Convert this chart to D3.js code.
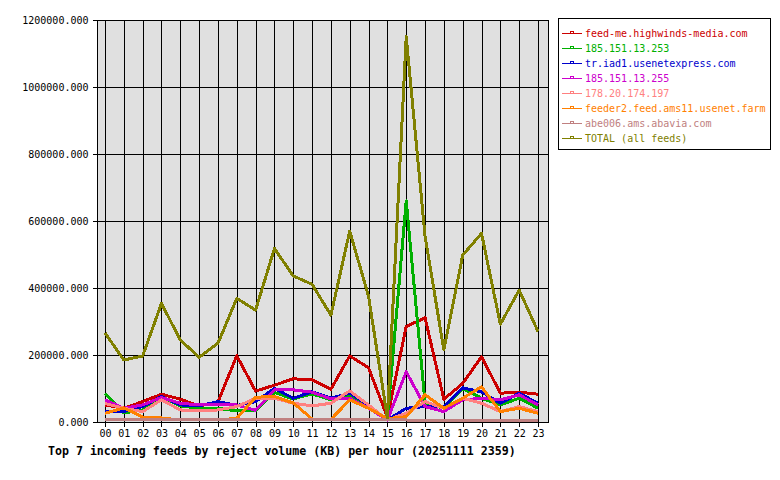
<!DOCTYPE html>
<html>
<head>
<meta charset="utf-8">
<script src="https://cdn.jsdelivr.net/npm/d3@7"></script>
<style>
  body { margin: 0; background: #fff; }
  svg { display: block; font-family: "DejaVu Sans Mono", "Liberation Mono", monospace; }
</style>
</head>
<body>
<svg id="chart" width="780" height="480"></svg>
<script>
const hours = ["00","01","02","03","04","05","06","07","08","09","10","11","12","13","14","15","16","17","18","19","20","21","22","23"];
const yTicks = [0, 200000, 400000, 600000, 800000, 1000000, 1200000];

const feedMe   = [51000, 41000, 61000, 83000, 68000, 48000, 60000, 198000, 92000, 110000, 129000, 126000, 98000, 197000, 162000, 14000, 285000, 311000, 68000, 115000, 195000, 86000, 89000, 83000];
const f185_253 = [86000, 27000, 36000, 76000, 48000, 41000, 41000, 33000, 34000, 88000, 69000, 84000, 66000, 76000, 46000, 8000, 660000, 58000, 41000, 100000, 71000, 51000, 71000, 41000];
const trIad1   = [31000, 31000, 46000, 76000, 51000, 48000, 61000, 49000, 61000, 100000, 71000, 90000, 71000, 86000, 51000, 6000, 41000, 46000, 46000, 102000, 90000, 56000, 86000, 56000];
const f185_255 = [66000, 41000, 51000, 73000, 56000, 51000, 51000, 51000, 35000, 96000, 96000, 89000, 69000, 71000, 41000, 6000, 150000, 46000, 31000, 66000, 71000, 66000, 81000, 51000];
const f178     = [55000, 41000, 31000, 66000, 36000, 33000, 36000, 46000, 71000, 71000, 56000, 48000, 56000, 93000, 51000, 6000, 26000, 61000, 41000, 71000, 56000, 31000, 46000, 31000];
const feeder2  = [26000, 42000, 15000, 12000, 6000, 6000, 6000, 11000, 74000, 76000, 57000, 9000, 8000, 66000, 41000, 10000, 16000, 81000, 41000, 71000, 105000, 31000, 41000, 26000];
const abe006   = [6000, 6000, 6000, 6000, 6000, 6000, 6000, 6000, 6000, 6000, 6000, 6000, 6000, 6000, 6000, 6000, 6000, 4000, 3000, 3000, 5000, 4000, 3000, 5000];
const total    = [266000, 185000, 197000, 354000, 245000, 193000, 235000, 369000, 334000, 518000, 436000, 411000, 319000, 570000, 375000, 12000, 1150000, 555000, 215000, 498000, 563000, 292000, 394000, 270000];

const seriesNames = ["feed-me.highwinds-media.com", "185.151.13.253", "tr.iad1.usenetexpress.com", "185.151.13.255", "178.20.174.197", "feeder2.feed.ams11.usenet.farm", "abe006.ams.abavia.com", "TOTAL (all feeds)"];
const seriesColors = ["#cc0000", "#00b000", "#0000cc", "#cc00cc", "#ff8080", "#ff8000", "#c08080", "#808000"];
const seriesValues = [feedMe, f185_253, trIad1, f185_255, f178, feeder2, abe006, total];

const svg = d3.select("#chart");
const plot = { left: 97, right: 548, top: 20, bottom: 422 };

const x = d3.scalePoint().domain(hours).range([105, 538]);
const y = d3.scaleLinear().domain([0, 1200000]).range([plot.bottom, plot.top]);

// plot background
svg.append("rect")
  .attr("x", plot.left).attr("y", plot.top)
  .attr("width", plot.right - plot.left).attr("height", plot.bottom - plot.top)
  .attr("fill", "#e0e0e0");

// grid
const grid = svg.append("g").attr("shape-rendering", "crispEdges").attr("stroke", "#000");
grid.selectAll("line.v").data(hours).join("line")
  .attr("class", "v")
  .attr("x1", d => Math.round(x(d)) + 0.5).attr("x2", d => Math.round(x(d)) + 0.5)
  .attr("y1", plot.top).attr("y2", plot.bottom);
grid.selectAll("line.h").data(yTicks).join("line")
  .attr("class", "h")
  .attr("x1", plot.left).attr("x2", plot.right)
  .attr("y1", d => Math.round(y(d)) + 0.5).attr("y2", d => Math.round(y(d)) + 0.5);
grid.append("line")
  .attr("x1", plot.right + 0.5).attr("x2", plot.right + 0.5)
  .attr("y1", plot.top).attr("y2", plot.bottom);

// axes
const yAxis = svg.append("g")
  .attr("transform", `translate(${plot.left + 0.5},0)`)
  .call(d3.axisLeft(y).tickValues(yTicks).tickFormat(d3.format(".3f")).tickSize(5).tickPadding(4));
const xAxis = svg.append("g")
  .attr("transform", `translate(0,${plot.bottom + 0.5})`)
  .call(d3.axisBottom(x).tickSize(4).tickPadding(3));
[yAxis, xAxis].forEach(a => {
  a.attr("shape-rendering", "crispEdges");
  a.selectAll("path, line").attr("stroke", "#000");
  a.selectAll("text").attr("fill", "#000").style("font-family", "DejaVu Sans Mono, monospace").style("font-size", "10px");
});
xAxis.select(".domain").attr("d", `M${plot.left},0H${plot.right + 1}`);
yAxis.select(".domain").attr("d", `M0,${plot.top}V${plot.bottom}`);

// series lines
const line = d3.line().x((d, i) => x(hours[i])).y(d => y(d));
svg.append("g").selectAll("path").data(seriesValues).join("path")
  .attr("d", d => line(d))
  .attr("fill", "none")
  .attr("stroke", (d, i) => seriesColors[i])
  .attr("stroke-width", 3)
  .attr("stroke-linejoin", "round")
  .attr("shape-rendering", "crispEdges");

// legend
const legend = svg.append("g");
legend.append("rect")
  .attr("x", 558.5).attr("y", 18.5).attr("width", 212).attr("height", 131)
  .attr("fill", "#fff").attr("stroke", "#000");
const rows = legend.selectAll("g.row").data(seriesNames).join("g")
  .attr("class", "row")
  .attr("transform", (d, i) => `translate(0,${33 + i * 15})`);
rows.append("line")
  .attr("x1", 562).attr("x2", 582).attr("y1", 0.5).attr("y2", 0.5)
  .attr("stroke", (d, i) => seriesColors[i]).attr("shape-rendering", "crispEdges");
rows.append("rect")
  .attr("x", 570.5).attr("y", -1.5).attr("width", 3).attr("height", 2)
  .attr("fill", "none").attr("stroke", (d, i) => seriesColors[i]).attr("shape-rendering", "crispEdges");
rows.append("text")
  .attr("x", 585).attr("y", 4)
  .attr("fill", (d, i) => seriesColors[i])
  .style("font-size", "10px")
  .text(d => d);

// title
svg.append("text")
  .attr("x", 48).attr("y", 455)
  .style("font-size", "11.6px").style("font-weight", "bold")
  .attr("fill", "#000")
  .text("Top 7 incoming feeds by reject volume (KB) per hour (20251111 2359)");
</script>
</body>
</html>
